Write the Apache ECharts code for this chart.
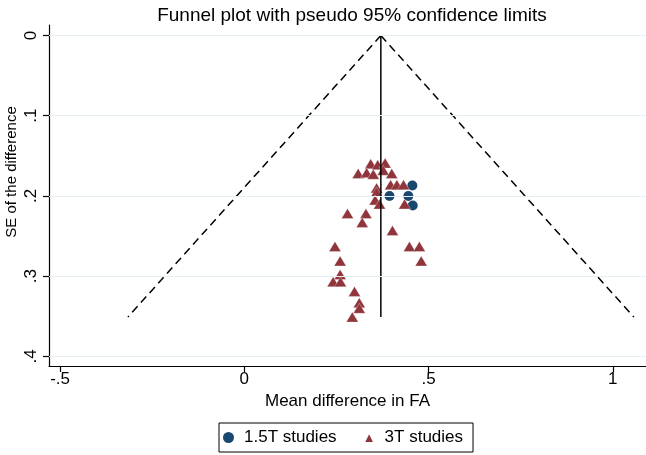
<!DOCTYPE html>
<html>
<head>
<meta charset="utf-8">
<script src="https://cdn.jsdelivr.net/npm/echarts@6/dist/echarts.min.js"></script>
<style>
html,body{margin:0;padding:0;background:#fff;}
#chart{width:646px;height:455px;}
</style>
</head>
<body>
<div id="chart"></div>
<script>
// ---- data ----
const xTicks = [-0.5, 0, 0.5, 1];
const xTickLabels = ['-.5', '0', '.5', '1'];
const yTicks = [0, 0.1, 0.2, 0.3, 0.4];
const yTickLabels = ['0', '.1', '.2', '.3', '.4'];

const pooledLine = [[0.3705, 0], [0.3705, 0.351]];
const funnelLeft = [[0.3705, 0], [-0.316, 0.351]];
const funnelRight = [[0.3705, 0], [1.057, 0.351]];

const t15_x  = [0.456, 0.394, 0.445, 0.457];
const t15_se = [0.187, 0.200, 0.200, 0.212];

const t3_x  = [0.343, 0.362, 0.382, 0.309, 0.332, 0.350, 0.377, 0.400,
               0.397, 0.414, 0.432, 0.359, 0.359, 0.355, 0.367, 0.435,
               0.280, 0.330, 0.320, 0.402, 0.246, 0.448, 0.475, 0.260,
               0.480, 0.260, 0.241, 0.261, 0.299, 0.312, 0.312, 0.293];
const t3_se = [0.160, 0.161, 0.159, 0.172, 0.171, 0.173, 0.168, 0.172,
               0.186, 0.186, 0.186, 0.190, 0.195, 0.205, 0.210, 0.210,
               0.222, 0.222, 0.233, 0.243, 0.263, 0.263, 0.263, 0.281,
               0.281, 0.298, 0.307, 0.307, 0.319, 0.333, 0.340, 0.351];

const FONT = "'Liberation Sans', Arial, Helvetica, sans-serif";
const zip = (a, b) => a.map((v, i) => [v, b[i]]);

const chart = echarts.init(document.getElementById('chart'), null, {renderer: 'canvas'});
chart.setOption({
  animation: false,
  backgroundColor: '#ffffff',
  textStyle: {fontFamily: FONT},
  title: {
    text: 'Funnel plot with pseudo 95% confidence limits',
    left: 347, top: 1, textAlign: 'center',
    textStyle: {fontFamily: FONT, fontSize: 19, fontWeight: 'normal', color: '#000'}
  },
  graphic: [{
    type: 'text', x: 12, y: 172, rotation: Math.PI / 2,
    style: {text: 'SE of the difference', fontFamily: FONT, fontSize: 15,
            fill: '#000', align: 'center', verticalAlign: 'middle'}
  }],
  legend: {
    left: 219, top: 423,
    padding: [6, 10, 6, 4],
    borderColor: '#000', borderWidth: 1, borderRadius: 0,
    itemWidth: 11, itemHeight: 11, itemGap: 26,
    data: [{name: '1.5T studies', icon: 'circle'}, {name: '3T studies', icon: 'triangle'}],
    textStyle: {fontFamily: FONT, fontSize: 17, color: '#000', padding: [0, 0, 0, 5]}
  },
  grid: {left: 49, right: 0, top: 25, bottom: 89, containLabel: false},
  xAxis: {
    type: 'value', min: -0.530, max: 1.090,
    name: 'Mean difference in FA', nameLocation: 'middle', nameGap: 25,
    nameTextStyle: {fontFamily: FONT, fontSize: 17, color: '#000'},
    axisLine: {show: true, onZero: false, lineStyle: {color: '#000', width: 1.2}},
    axisTick: {show: true, length: 6, customValues: xTicks, lineStyle: {color: '#000', width: 1.2}},
    axisLabel: {customValues: xTicks, margin: 5, fontFamily: FONT, fontSize: 17, color: '#000',
      formatter: v => { const i = xTicks.findIndex(t => Math.abs(t - v) < 1e-9); return i >= 0 ? xTickLabels[i] : ''; }},
    splitLine: {show: false}
  },
  yAxis: {
    type: 'value', inverse: true, min: -0.0131, max: 0.412,
    axisLine: {show: true, onZero: false, lineStyle: {color: '#000', width: 1.2}},
    axisTick: {show: true, length: 6, customValues: yTicks, lineStyle: {color: '#000', width: 1.2}},
    axisLabel: {customValues: yTicks, rotate: 90, margin: 9, fontFamily: FONT, fontSize: 17, color: '#000',
      formatter: v => { const i = yTicks.findIndex(t => Math.abs(t - v) < 1e-9); return i >= 0 ? yTickLabels[i] : ''; }},
    splitLine: {show: false}
  },
  series: [
    {
      name: 'grid', type: 'line', data: [], silent: true, z: 0,
      markLine: {
        silent: true, symbol: ['none', 'none'], label: {show: false},
        lineStyle: {color: '#e6eff1', width: 1.2, type: 'solid'},
        data: yTicks.map(v => ({yAxis: v}))
      }
    },
    {
      name: '1.5T studies', type: 'scatter', symbol: 'circle', symbolSize: 10, z: 3,
      itemStyle: {color: '#1a476f', opacity: 1},
      data: zip(t15_x, t15_se)
    },
    {
      name: '3T studies', type: 'scatter', symbol: 'triangle', symbolSize: [12, 10], z: 3,
      itemStyle: {color: '#90353b', opacity: 1, borderColor: '#ffffff', borderWidth: 0.3},
      data: zip(t3_x, t3_se)
    },
    {
      name: 'pooled', type: 'line', data: pooledLine, symbol: 'none', z: 4, silent: true,
      lineStyle: {color: '#000', width: 1.5}
    },
    {
      name: 'lower', type: 'line', data: funnelLeft, symbol: 'none', z: 4, silent: true,
      lineStyle: {color: '#000', width: 1.5, type: [8, 5]}
    },
    {
      name: 'upper', type: 'line', data: funnelRight, symbol: 'none', z: 4, silent: true,
      lineStyle: {color: '#000', width: 1.5, type: [8, 5]}
    }
  ]
});
</script>
</body>
</html>
